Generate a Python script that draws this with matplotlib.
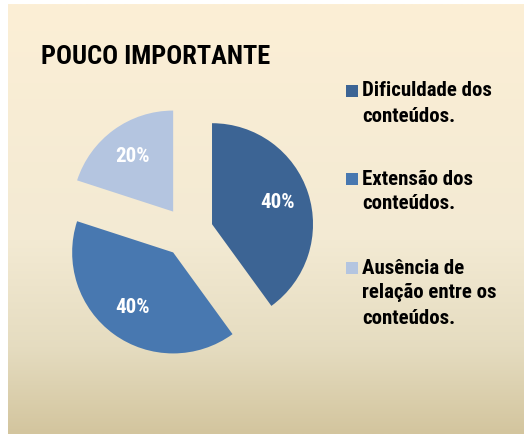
import numpy as np
import matplotlib.pyplot as plt
from matplotlib.colors import LinearSegmentedColormap
from matplotlib.patches import Rectangle

# Chart data
categories = ['Dificuldade dos\nconteúdos.',
              'Extensão dos\nconteúdos.',
              'Ausência de\nrelação entre os\nconteúdos.']
values = [40, 40, 20]
colors = ['#3c6494', '#4878b0', '#b4c5e0']
title = 'POUCO IMPORTANTE'

plt.rcParams['font.family'] = ['Liberation Sans Narrow', 'Roboto Condensed',
                               'Archivo Narrow', 'Asap Condensed', 'DejaVu Sans']
plt.rcParams['font.weight'] = 'bold'

W, H = 524, 434
fig = plt.figure(figsize=(W / 100, H / 100), dpi=100, facecolor='white')

# Parchment-style vertical gradient behind everything
bg = fig.add_axes([8 / W, 0, (W - 8) / W, (H - 4) / H])
grad = LinearSegmentedColormap.from_list(
    'parch', [(0.0, '#d3c59e'), (0.2, '#e5dcc0'), (0.45, '#f3ead3'),
              (1.0, '#fcefd6')])
bg.imshow(np.linspace(0, 1, 256).reshape(-1, 1), aspect='auto', cmap=grad,
          origin='lower', extent=[0, 1, 0, 1])
bg.axis('off')

# Pie: centre at (188, 232) px, radius 101 px
cx, cy, r, half = 188, 232, 101, 150
ax = fig.add_axes([(cx - half) / W, (H - cy - half) / H, 2 * half / W, 2 * half / H])
ax.patch.set_alpha(0)
wedges, texts, autotexts = ax.pie(
    values, colors=colors, startangle=90, counterclock=False,
    explode=[0.25] * len(values), autopct='%1.0f%%', pctdistance=0.68,
    wedgeprops=dict(linewidth=0),
    textprops=dict(color='white', fontsize=15, fontweight='bold'))
lim = half / r
ax.set_xlim(-lim, lim)
ax.set_ylim(-lim, lim)
ax.axis('off')

fig.text(41 / W, 1 - 57 / H, title, fontsize=19, fontweight='bold',
         color='black', va='center', ha='left')

# Legend on the right, square aligned with the first text line
entry_y = [91, 179, 268]
line_h = 25
for lab, col, y in zip(categories, colors, entry_y):
    fig.patches.append(Rectangle((346 / W, 1 - (y + 6) / H), 12 / W, 12 / H,
                                 transform=fig.transFigure, facecolor=col,
                                 edgecolor='none'))
    for i, line in enumerate(lab.split('\n')):
        fig.text(362 / W, 1 - (y + i * line_h) / H, line, fontsize=15,
                 fontweight='bold', color='black', va='center', ha='left')

fig.savefig('out.png', dpi=100, facecolor='white')
